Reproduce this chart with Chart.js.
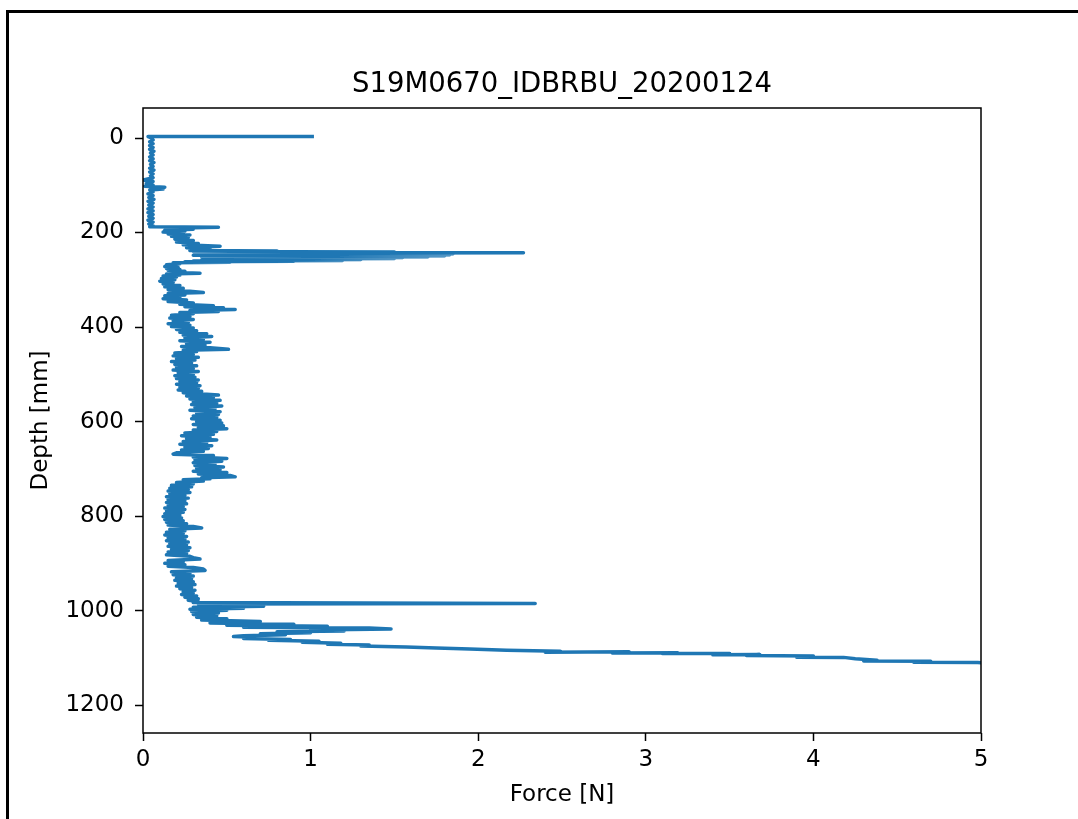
<!DOCTYPE html>
<html>
<head>
<meta charset="utf-8">
<title>S19M0670_IDBRBU_20200124</title>
<script src="https://cdn.jsdelivr.net/npm/chart.js@4.4.1/dist/chart.umd.min.js"></script>
<style>
  html, body { margin: 0; padding: 0; background: #fff; overflow: hidden; }
  #myChart { position: absolute; left: 0; top: 0; }
  .frame { position: absolute; left: 6px; top: 10px; width: 1200px; height: 900px;
           border-left: 3px solid #000; border-top: 3px solid #000; pointer-events: none; }
</style>
</head>
<body>
<canvas id="myChart" width="1078" height="819"></canvas>
<div class="frame"></div>
<script>
const chartTitle = 'S19M0670_IDBRBU_20200124';
const xLabel = 'Force [N]';
const yLabel = 'Depth [mm]';

const forceTicks = [0, 1, 2, 3, 4, 5];
const depthTicks = [0, 200, 400, 600, 800, 1000, 1200];

const depth = [
    -3, -3, 0, 4, 8, 12, 16, 20, 24, 28, 32, 36, 40, 44, 48, 52, 56, 60, 64, 68, 72, 76, 80, 84,
    89, 92, 96, 100, 102, 104, 106, 108, 110, 114, 118, 122, 126, 130, 134, 138, 142, 146, 150,
    154, 158, 162, 166, 170, 174, 178, 182, 186, 188,
    189, 191, 193, 195, 197, 199, 201, 203, 205, 208, 211, 214, 217, 220, 223, 226, 229, 232, 235, 237,
    238, 239, 240, 241, 242, 243, 244, 245, 246, 247, 248, 249, 250, 251, 252, 253, 254, 255, 256, 257, 258, 259, 260, 261, 262, 263, 264,
    266, 268, 270, 272, 274, 276, 278, 280, 282, 284, 286, 288,
    290, 292, 294, 297, 300, 303, 306, 309, 312, 315, 318, 321, 324, 327, 329,
    332, 334, 337, 340, 343, 346, 349, 352, 355, 357, 359, 361, 363, 365, 367, 369,
    372, 375, 378, 381, 384, 387, 390, 393, 396, 399, 402, 405, 408,
    411, 414, 417, 420, 423, 426, 429, 432, 435, 438, 441, 444, 447, 449,
    452, 455, 458, 461, 464, 467, 470, 473, 476, 479, 482, 485, 488, 491, 494, 497, 500, 503, 506, 509,
    512, 515, 518, 521, 524, 527, 530, 533, 536, 539, 542, 544, 546,
    549, 552, 555, 558, 561, 564, 567, 570, 573, 576, 579, 582, 585, 588, 591, 594, 597, 600, 603, 606, 609, 612, 615, 618,
    621, 624, 627, 630, 633, 636, 639, 642, 645, 648, 651, 654, 657, 660, 663, 666, 669,
    672, 675, 678, 681, 684, 687, 690, 693, 696, 699, 702, 705, 708, 711, 714, 717, 719,
    721, 723, 726, 729, 732, 735,
    738, 741, 744, 747, 750, 753, 756, 759, 762, 765, 768, 771, 774, 777, 780, 783, 786, 789,
    792, 795, 798, 801, 804, 807, 810, 813, 816, 819, 822, 825, 828, 831, 834, 837, 840, 843, 846, 849,
    852, 855, 858, 861, 864, 867, 870, 873, 876, 879, 882, 885, 888, 891, 894, 897, 900, 903, 906, 909, 912, 915, 918,
    921, 924, 927, 930, 933, 936, 939, 942, 945, 948, 951, 954, 957, 960, 963, 966, 969, 972, 975, 978, 981, 983,
    985, 986, 987, 989, 991, 993, 995, 997, 999, 1002, 1005, 1008, 1011, 1014, 1017, 1020, 1023, 1026, 1029, 1031,
    1033, 1035, 1037, 1039, 1041, 1043, 1045, 1047, 1049, 1051, 1053, 1055, 1057, 1059, 1061, 1063, 1065, 1067, 1069, 1071,
    1073, 1075, 1077, 1079, 1081, 1084, 1086, 1088, 1087, 1089.5, 1089, 1091, 1091, 1093.5, 1093, 1095, 1096, 1098.5, 1099,
    1102, 1105, 1106.5, 1107, 1109.5, 1110, 1113, 1130, 1160, 1199
];
const force = [
    1.02, 0.03, 0.05, 0.06, 0.04, 0.06, 0.04, 0.06, 0.04, 0.065, 0.045, 0.06, 0.04, 0.06, 0.04, 0.065, 0.045, 0.06, 0.04, 0.065, 0.04, 0.06, 0.045, 0.06,
    0.0, 0.06, 0.02, 0.06, 0.01, 0.13, 0.05, 0.12, 0.04, 0.06, 0.03, 0.06, 0.035, 0.065, 0.03, 0.06, 0.035, 0.06, 0.03,
    0.06, 0.03, 0.06, 0.035, 0.06, 0.03, 0.06, 0.035, 0.06, 0.04,
    0.45, 0.15, 0.30, 0.13, 0.25, 0.12, 0.24, 0.15, 0.28, 0.17, 0.27, 0.19, 0.30, 0.20, 0.33, 0.24, 0.46, 0.26, 0.40, 0.30,
    0.28, 0.8, 0.3, 1.5, 0.45, 2.27, 0.42, 1.85, 0.4, 1.83, 0.3, 1.8, 0.4, 1.7, 0.35, 1.55, 0.42, 1.5, 0.4, 1.3, 0.35, 1.19, 0.3, 0.9, 0.25, 0.52, 0.18,
    0.22, 0.14, 0.2, 0.13, 0.21, 0.14, 0.22, 0.15, 0.25, 0.17, 0.34, 0.14,
    0.22, 0.12, 0.2, 0.11, 0.19, 0.1, 0.18, 0.12, 0.22, 0.13, 0.24, 0.15, 0.28, 0.36, 0.15,
    0.25, 0.13, 0.22, 0.12, 0.26, 0.15, 0.3, 0.22, 0.42, 0.25, 0.48, 0.3, 0.55, 0.28, 0.45, 0.22,
    0.3, 0.17, 0.28, 0.16, 0.3, 0.18, 0.27, 0.15, 0.28, 0.17, 0.3, 0.2, 0.32,
    0.22, 0.38, 0.24, 0.41, 0.25, 0.36, 0.22, 0.4, 0.26, 0.37, 0.23, 0.4, 0.51, 0.24,
    0.32, 0.19, 0.3, 0.18, 0.33, 0.2, 0.31, 0.17, 0.29, 0.19, 0.32, 0.2, 0.3, 0.18, 0.33, 0.21, 0.3, 0.19, 0.31, 0.2,
    0.33, 0.22, 0.32, 0.2, 0.34, 0.22, 0.33, 0.21, 0.35, 0.24, 0.38, 0.45, 0.26,
    0.42, 0.28, 0.46, 0.3, 0.44, 0.29, 0.47, 0.31, 0.43, 0.28, 0.46, 0.32, 0.45, 0.3, 0.44, 0.29, 0.46, 0.32, 0.47, 0.3, 0.48, 0.33, 0.5, 0.3,
    0.44, 0.25, 0.42, 0.23, 0.4, 0.26, 0.44, 0.24, 0.38, 0.22, 0.41, 0.25, 0.39, 0.23, 0.36, 0.2, 0.18,
    0.42, 0.3, 0.5, 0.31, 0.47, 0.3, 0.43, 0.31, 0.48, 0.32, 0.46, 0.3, 0.5, 0.33, 0.52, 0.55, 0.35,
    0.4, 0.24, 0.36, 0.2, 0.3, 0.17,
    0.29, 0.16, 0.27, 0.15, 0.28, 0.16, 0.25, 0.14, 0.27, 0.15, 0.25, 0.14, 0.26, 0.15, 0.24, 0.13, 0.25, 0.14,
    0.24, 0.13, 0.22, 0.12, 0.23, 0.13, 0.24, 0.14, 0.26, 0.15, 0.3, 0.35, 0.16, 0.25, 0.14, 0.24, 0.13, 0.26, 0.15, 0.25,
    0.14, 0.27, 0.16, 0.26, 0.15, 0.28, 0.17, 0.27, 0.15, 0.26, 0.14, 0.28, 0.3, 0.34, 0.15, 0.24, 0.13, 0.25, 0.15, 0.3, 0.36, 0.37, 0.17,
    0.28, 0.18, 0.3, 0.2, 0.29, 0.19, 0.3, 0.21, 0.31, 0.2, 0.29, 0.22, 0.31, 0.24, 0.3, 0.23, 0.32, 0.25, 0.33, 0.27, 0.33, 0.3,
    2.34, 0.33, 0.7, 0.35, 0.72, 0.3, 0.6, 0.28, 0.5, 0.29, 0.45, 0.3, 0.44, 0.32, 0.5, 0.35, 0.7, 0.4, 0.9, 0.5,
    1.1, 0.6, 1.35, 1.48, 1.0, 1.2, 0.8, 1.0, 0.7, 0.85, 0.6, 0.54, 0.7, 0.6, 0.88, 0.75, 1.05, 0.95, 1.18, 1.1,
    1.35, 1.3, 1.57, 1.75, 1.95, 2.17, 2.49, 2.4, 2.9, 2.8, 3.19, 3.1, 3.5, 3.4, 3.68, 3.6, 4.0, 3.9, 4.18,
    4.25, 4.38, 4.3, 4.7, 4.6, 4.98, 5.1, 6.5, 8.0, 9.5
];

const points = depth.map((d, i) => ({ x: force[i], y: d }));

Chart.defaults.font.family = 'DejaVu Sans';
Chart.defaults.color = '#000';

// matplotlib style box round the axes
const framePlugin = {
    id: 'frame',
    afterDatasetsDraw(chart) {
        const { ctx, chartArea: a } = chart;
        ctx.save();
        ctx.strokeStyle = '#000';
        ctx.lineWidth = 1.5;
        ctx.strokeRect(a.left, a.top, a.right - a.left, a.bottom - a.top);
        ctx.restore();
    }
};

const ctx = document.getElementById('myChart').getContext('2d');

new Chart(ctx, {
    type: 'scatter',
    data: {
        datasets: [{
            data: points,
            showLine: true,
            borderColor: '#1f77b4',
            backgroundColor: '#1f77b4',
            borderWidth: 3.5,
            borderJoinStyle: 'round',
            pointRadius: 0,
            tension: 0,
            clip: 0
        }]
    },
    options: {
        responsive: false,
        animation: false,
        events: [],
        layout: {
            padding: { left: 0, right: 97, top: 0, bottom: 0 }
        },
        plugins: {
            legend: { display: false },
            tooltip: { enabled: false },
            title: {
                display: true,
                text: chartTitle,
                fullSize: false,
                color: '#000',
                font: { size: 27.5, weight: 'normal' },
                padding: { top: 68, bottom: 7 }
            }
        },
        scales: {
            x: {
                type: 'linear',
                min: 0,
                max: 5,
                afterBuildTicks: (s) => { s.ticks = forceTicks.map(v => ({ value: v })); },
                afterFit: (s) => { s.height = 86; },
                grid: {
                    drawOnChartArea: false,
                    tickLength: 8,
                    tickColor: '#000',
                    tickWidth: 1.5
                },
                border: { display: false },
                ticks: {
                    padding: 5,
                    color: '#000',
                    font: { size: 23 },
                    maxRotation: 0,
                    callback: (v) => String(v)
                },
                title: {
                    display: true,
                    text: xLabel,
                    color: '#000',
                    font: { size: 23 },
                    padding: { top: 0, bottom: 10 }
                }
            },
            y: {
                type: 'linear',
                reverse: true,
                min: -63.5,
                max: 1259,
                afterBuildTicks: (s) => { s.ticks = depthTicks.map(v => ({ value: v })); },
                afterFit: (s) => { s.width = 143; },
                grid: {
                    drawOnChartArea: false,
                    tickLength: 8,
                    tickColor: '#000',
                    tickWidth: 1.5
                },
                border: { display: false },
                ticks: {
                    padding: 11,
                    color: '#000',
                    font: { size: 23 },
                    callback: (v) => String(v)
                },
                title: {
                    display: true,
                    text: yLabel,
                    color: '#000',
                    font: { size: 23 },
                    padding: { top: 27, bottom: 0 }
                }
            }
        }
    },
    plugins: [framePlugin]
});
</script>
</body>
</html>
